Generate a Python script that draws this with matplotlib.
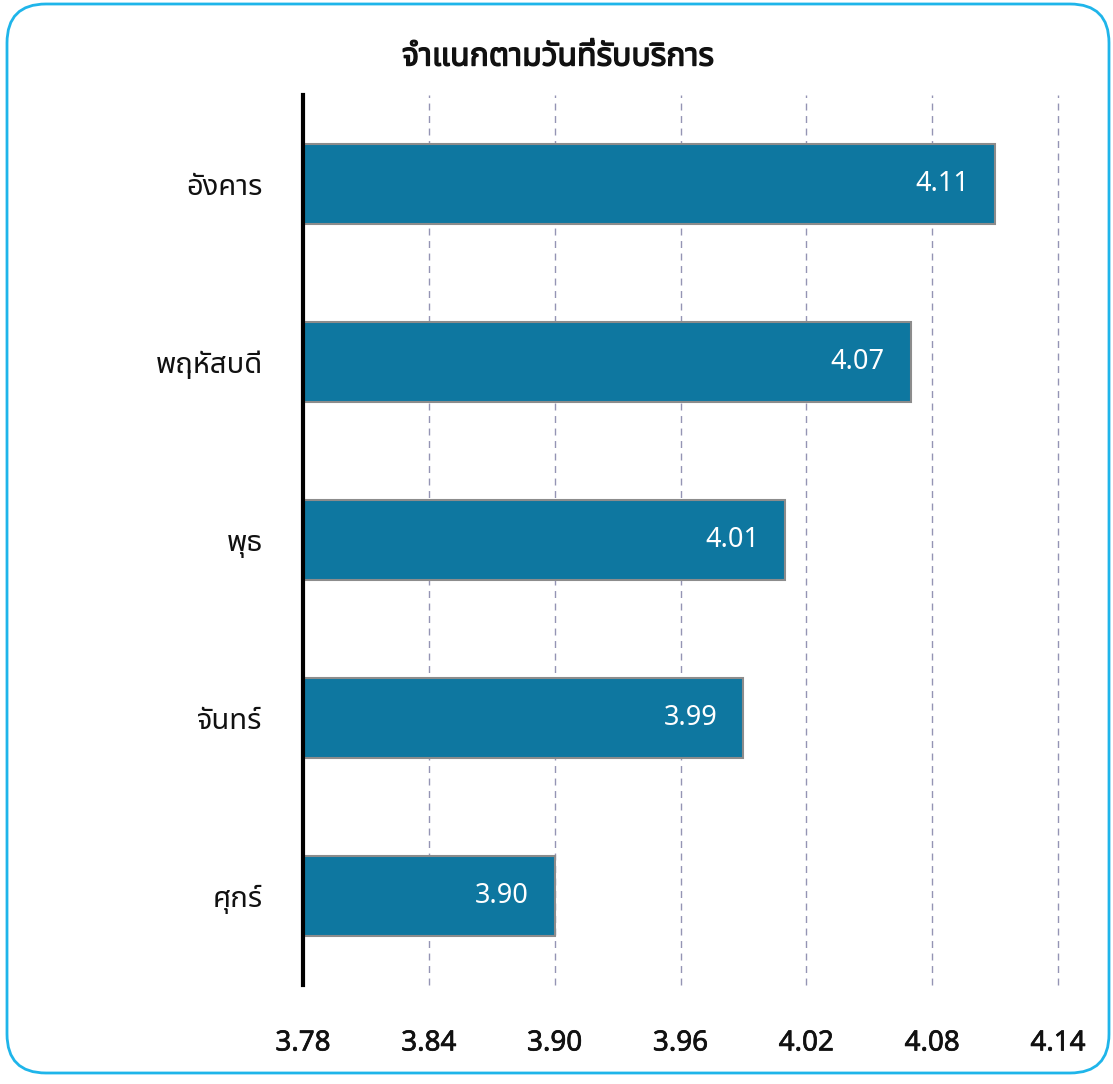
import matplotlib
matplotlib.use("Agg")
import matplotlib.pyplot as plt
from matplotlib.patches import FancyBboxPatch
from matplotlib import font_manager
import matplotlib.patheffects as pe

thai_candidates = ['Noto Sans Thai', 'Noto Sans Thai UI', 'Loma', 'Garuda', 'Tlwg Typo', 'Norasi',
                   'Sarabun', 'TH Sarabun New', 'Tahoma', 'Noto Serif Thai']
available = {f.name for f in font_manager.fontManager.ttflist}
fams = [f for f in thai_candidates if f in available] + ['DejaVu Sans']
plt.rcParams['font.family'] = fams

title = "จำแนกตามวันที่รับบริการ"
categories = ["อังคาร", "พฤหัสบดี", "พุธ", "จันทร์", "ศุกร์"]
values = [4.11, 4.07, 4.01, 3.99, 3.90]
xticks = [3.78, 3.84, 3.90, 3.96, 4.02, 4.08, 4.14]
xtick_labels = ["3.78", "3.84", "3.90", "3.96", "4.02", "4.08", "4.14"]

W, H = 1113, 1084
fig = plt.figure(figsize=(W / 100, H / 100), dpi=100)

# rounded frame
frame = FancyBboxPatch((7 / W, 11 / H), (1109 - 7) / W, (1080 - 11) / H,
                       boxstyle="round,pad=0,rounding_size=0.035",
                       transform=fig.transFigure, fill=False,
                       edgecolor="#1FB5EA", linewidth=2, mutation_aspect=W / H)
fig.patches.append(frame)

ax = fig.add_axes([303 / W, 1 - 985 / H, (1058 - 303) / W, (985 - 95) / H])
y = list(range(len(categories)))
ax.barh(y, values, height=0.45, color="#0E77A0", edgecolor="#8C8C8C", linewidth=1.5, zorder=3)
ax.set_ylim(len(categories) - 0.5, -0.5)
ax.set_xlim(xticks[0], xticks[-1])
ax.set_xticks(xticks)
ax.set_xticklabels(xtick_labels, fontsize=20)
ax.set_yticks(y)
ax.set_yticklabels(categories, fontsize=21)
ax.tick_params(axis='both', length=0, colors="#111111")
ax.tick_params(axis='x', pad=32)
ax.tick_params(axis='y', pad=29)
for lbl in ax.get_xticklabels():
    lbl.set_path_effects([pe.withStroke(linewidth=0.5, foreground="#111111")])
for s in ['top', 'right', 'bottom']:
    ax.spines[s].set_visible(False)
ax.spines['left'].set_linewidth(3)
ax.spines['left'].set_color("black")
ax.spines['left'].set_zorder(5)
for xv in xticks[1:]:
    ax.axvline(xv, color="#9494B4", linestyle=(0, (5, 4)), linewidth=1, zorder=1, clip_on=False)

for yi, v in zip(y, values):
    ax.text(v - 0.0125, yi, f"{v:.2f}", ha="right", va="center", color="white", fontsize=19.5, zorder=4)

fig.text(558 / W, 1 - 57 / H, title, ha="center", va="center", fontsize=23, fontweight="bold",
         color="#111111", path_effects=[pe.withStroke(linewidth=1.0, foreground="#111111")])

fig.savefig("out.png", dpi=100)
